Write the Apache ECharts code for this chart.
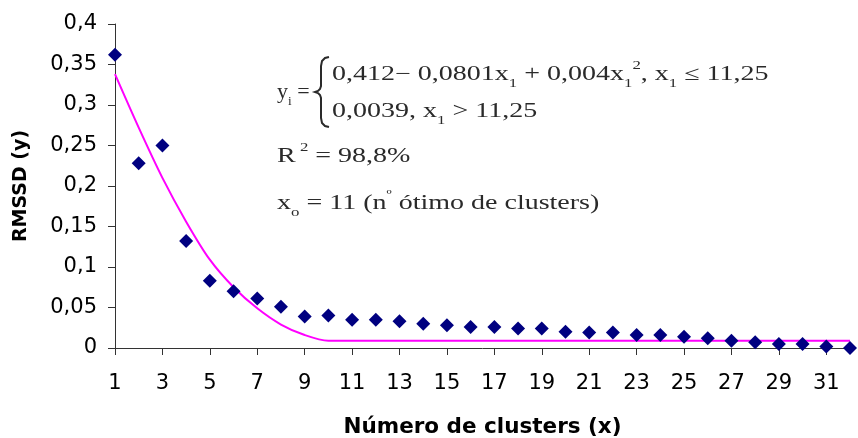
<!DOCTYPE html>
<html>
<head>
<meta charset="utf-8">
<script src="https://cdn.jsdelivr.net/npm/echarts@6/dist/echarts.min.js"></script>
<style>html,body{margin:0;padding:0;background:#fff;}#c{width:858px;height:438px;}</style>
</head>
<body>
<div id="c"></div>
<script>
const categories = ['1','2','3','4','5','6','7','8','9','10','11','12','13','14','15','16','17','18','19','20','21','22','23','24','25','26','27','28','29','30','31','32'];
const rmssd = [0.362,0.228,0.250,0.132,0.083,0.070,0.061,0.051,0.039,0.040,0.035,0.035,0.033,0.030,0.028,0.026,0.026,0.024,0.024,0.020,0.019,0.019,0.016,0.016,0.014,0.012,0.009,0.007,0.005,0.005,0.002,0.000];
const fitted = [0.338,0.272,0.210,0.156,0.109,0.075,0.049,0.029,0.016,0.009,0.009,0.009,0.009,0.009,0.009,0.009,0.009,0.009,0.009,0.009,0.009,0.009,0.009,0.009,0.009,0.009,0.009,0.009,0.009,0.009,0.009,0.009];
const yTicks = {min: 0, max: 0.4, interval: 0.05};

const chart = echarts.init(document.getElementById('c'), null, {renderer: 'canvas'});
const serif = '"Liberation Serif", "DejaVu Serif", serif';
const sans = '"DejaVu Sans", "Liberation Sans", sans-serif';
const txtColor = '#2a2a2a';
const rich = {
  n: {fontFamily: serif, fontSize: 20, color: txtColor},
  s: {fontFamily: serif, fontSize: 12, color: txtColor, verticalAlign: 'bottom', lineHeight: 30},
  p: {fontFamily: serif, fontSize: 12, color: txtColor, verticalAlign: 'top', lineHeight: 30}
};
function eqText(left, top, text, sx) {
  return {type: 'text', left: left, top: top, scaleX: sx || 1.4, originX: 0,
    style: {text: text, rich: rich, fill: txtColor, font: '20px ' + serif}};
}
chart.setOption({
  animation: false,
  grid: {left: 115, right: 8, top: 24, bottom: 90, containLabel: false, outerBoundsMode: 'none'},
  xAxis: {
    type: 'category', data: categories, boundaryGap: false,
    name: 'Número de clusters (x)', nameLocation: 'middle', nameGap: 68,
    nameTextStyle: {fontFamily: sans, fontWeight: 'bold', fontSize: 21.5, color: '#000'},
    axisLine: {lineStyle: {color: '#333', width: 1}},
    axisTick: {show: true, interval: 1, length: 7, lineStyle: {color: '#333'}},
    axisLabel: {interval: 1, margin: 25, fontFamily: sans, fontSize: 21, color: '#000'},
    splitLine: {show: false}
  },
  yAxis: {
    type: 'value', min: yTicks.min, max: yTicks.max, interval: yTicks.interval,
    name: 'RMSSD (y)', nameLocation: 'middle', nameGap: 84, nameRotate: 90,
    nameTextStyle: {fontFamily: sans, fontWeight: 'bold', fontSize: 19, color: '#000'},
    axisLine: {show: true, lineStyle: {color: '#333', width: 1}},
    axisTick: {show: true, length: 7, lineStyle: {color: '#333'}},
    axisLabel: {margin: 18, fontFamily: sans, fontSize: 21, color: '#000',
      formatter: v => String(+v.toFixed(2)).replace('.', ',')},
    splitLine: {show: false}
  },
  series: [
    {type: 'line', data: fitted, showSymbol: false, smooth: 0.3, z: 2,
     lineStyle: {color: '#ff00ff', width: 2}},
    {type: 'scatter', data: rmssd, symbol: 'diamond', symbolSize: 14, z: 3,
     itemStyle: {color: '#000080', opacity: 1}}
  ],
  graphic: [
    eqText(277, 83, '{n|y}{s|i}{n| =}', 1.1),
    {type: 'polyline', shape: {points: [[329,57],[325,58],[322,61],[321,66],[321,86],[320,89],[318,91],[315,92],[318,93],[320,95],[321,98],[321,118],[322,123],[325,126],[329,127]]},
     style: {stroke: txtColor, lineWidth: 2, fill: null}},
    eqText(332, 60, '{n|0,412− 0,0801x}{s|1}{n| + 0,004x}{s|1}{p|2}{n|, x}{s|1}{n| ≤ 11,25}', 1.4),
    eqText(332, 102, '{n|0,0039, x}{s|1}{n| > 11,25}', 1.4),
    eqText(277, 142, '{n|R}{p| 2}{n| = 98,8%}', 1.4),
    eqText(277, 189, '{n|x}{s|o}{n| = 11 (n}{p|º}{n| ótimo de clusters)}', 1.4)
  ]
});
</script>
</body>
</html>
